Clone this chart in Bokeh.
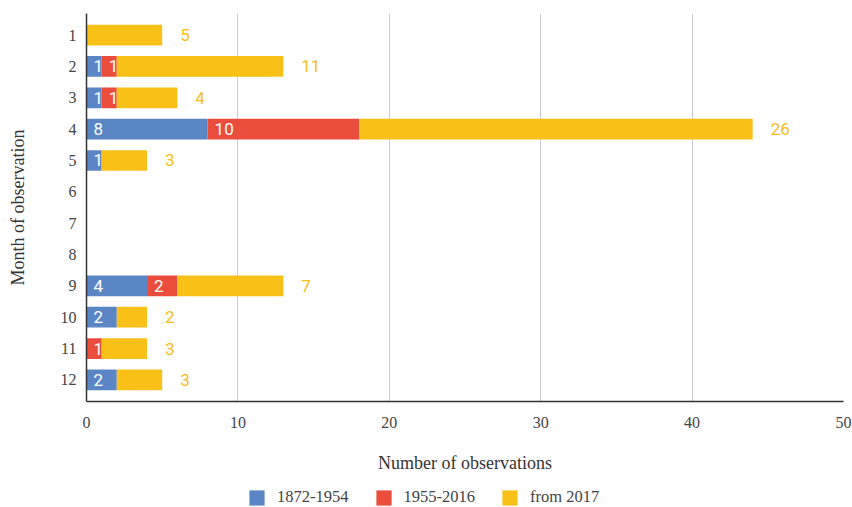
from bokeh.plotting import figure
from bokeh.layouts import column
from bokeh.models import ColumnDataSource, Range1d, Legend, LegendItem, LabelSet, FixedTicker
from bokeh.core.properties import value
from bokeh.embed import file_html
from bokeh.resources import INLINE

months = [1, 2, 3, 4, 5, 6, 7, 8, 9, 10, 11, 12]
early = [0, 1, 1, 8, 1, 0, 0, 0, 4, 2, 0, 2]
middle = [0, 1, 1, 10, 0, 0, 0, 0, 2, 0, 1, 0]
recent = [5, 11, 4, 26, 3, 0, 0, 0, 7, 2, 3, 3]
series_names = ["1872-1954", "1955-2016", "from 2017"]
colors = ["#5a86c5", "#ea4d3c", "#f9c117"]
x_ticks = [0, 10, 20, 30, 40, 50]

SERIF = "Liberation Serif"
TXT = "#444444"

src = ColumnDataSource(dict(month=months, early=early, middle=middle, recent=recent))

p = figure(width=852, height=475, x_range=Range1d(0, 50), y_range=Range1d(12.69, 0.31),
           output_backend="svg", toolbar_location=None,
           min_border_left=86, min_border_right=9, min_border_top=13, min_border_bottom=73)

renderers = p.hbar_stack(["early", "middle", "recent"], y="month", height=0.66,
                         color=colors, line_color=None, source=src)

# white labels inside blue / red segments
in_x, in_y, in_t = [], [], []
for i, m in enumerate(months):
    if early[i] > 0:
        in_x.append(0); in_y.append(m); in_t.append(str(early[i]))
    if middle[i] > 0:
        in_x.append(early[i]); in_y.append(m); in_t.append(str(middle[i]))
in_src = ColumnDataSource(dict(x=in_x, y=in_y, t=in_t))
p.add_layout(LabelSet(x="x", y="y", text="t", source=in_src, x_offset=7,
                      text_align="left", text_baseline="middle", text_color="white",
                      text_font=value("Roboto"), text_font_size="17px"))

# yellow labels outside bars
out_x, out_y, out_t = [], [], []
for i, m in enumerate(months):
    if recent[i] > 0:
        out_x.append(early[i] + middle[i] + recent[i]); out_y.append(m); out_t.append(str(recent[i]))
out_src = ColumnDataSource(dict(x=out_x, y=out_y, t=out_t))
p.add_layout(LabelSet(x="x", y="y", text="t", source=out_src, x_offset=18,
                      text_align="left", text_baseline="middle", text_color="#f7bd1d",
                      text_font=value("Roboto"), text_font_size="17px"))

# axes
p.xaxis.ticker = FixedTicker(ticks=x_ticks)
p.yaxis.ticker = FixedTicker(ticks=months)
for ax in (p.xaxis[0], p.yaxis[0]):
    ax.axis_line_color = "#333333"
    ax.axis_line_width = 1.5
    ax.major_tick_line_color = None
    ax.minor_tick_line_color = None
    ax.major_label_text_font = SERIF
    ax.major_label_text_font_size = "16px"
    ax.major_label_text_color = TXT
    ax.axis_label_text_font = SERIF
    ax.axis_label_text_font_size = "18px"
    ax.axis_label_text_font_style = "normal"
    ax.axis_label_text_color = "#333333"

p.xaxis.major_label_standoff = 9
p.xaxis.axis_label = "Number of observations"
p.xaxis.axis_label_standoff = 22
p.yaxis.major_label_standoff = 4
p.yaxis.axis_label = "Month of observation"
p.yaxis.axis_label_standoff = 30

p.ygrid.visible = False
p.xgrid.ticker = FixedTicker(ticks=x_ticks)
p.xgrid.grid_line_color = "#cccccc"
p.outline_line_color = None

# legend in a small figure below
lg = figure(width=852, height=32, x_range=Range1d(0, 1), y_range=Range1d(0, 1),
            output_backend="svg", toolbar_location=None,
            x_axis_location=None, y_axis_location=None, min_border=0)
lg.grid.visible = False
lg.outline_line_color = None
dummies = [lg.hbar(y=[-10], right=[1], height=0.5, color=c, line_color=None) for c in colors]
legend = Legend(items=[LegendItem(label=n, renderers=[r]) for n, r in zip(series_names, dummies)],
                orientation="horizontal", location=(161, 0),
                glyph_width=19, glyph_height=19, label_standoff=11, spacing=25,
                label_text_font=SERIF, label_text_font_size="16.5px", label_text_color=TXT,
                border_line_color=None, background_fill_alpha=0, padding=0, margin=0)
lg.add_layout(legend)

layout = column(p, lg, spacing=0)
open("out.html", "w").write(file_html(layout, INLINE))
